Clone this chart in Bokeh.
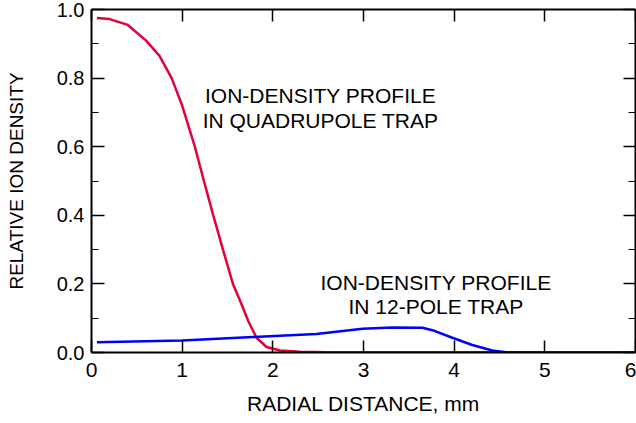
from bokeh.plotting import figure
from bokeh.models import (LinearAxis, FixedTicker, Range1d,
                          NumeralTickFormatter, CustomJSTickFormatter)
from bokeh.embed import file_html
from bokeh.resources import INLINE

# Quadrupole trap ion-density profile
quad_r = [0.06, 0.2, 0.4, 0.6, 0.75, 0.884, 1.0, 1.14, 1.24, 1.343, 1.45,
          1.56, 1.64, 1.73, 1.82, 1.93, 2.08, 2.3, 2.6, 3.0, 4.0, 5.0, 6.0]
quad_v = [0.975, 0.972, 0.955, 0.91, 0.865, 0.80, 0.72, 0.60, 0.50, 0.40,
          0.30, 0.20, 0.15, 0.091, 0.043, 0.016, 0.006, 0.002, 0.001, 0.001,
          0.001, 0.0, 0.0]

# 12-pole trap ion-density profile
pole_r = [0.06, 1.0, 1.78, 2.48, 2.99, 3.32, 3.65, 3.76, 3.98, 4.20, 4.42,
          4.57, 5.0, 6.0]
pole_v = [0.030, 0.035, 0.045, 0.054, 0.069, 0.073, 0.072, 0.065, 0.043,
          0.022, 0.006, 0.001, 0.0, 0.0]

x_ticks = [0, 1, 2, 3, 4, 5, 6]
y_ticks = [0.0, 0.2, 0.4, 0.6, 0.8, 1.0]
y_minor = [0.1, 0.3, 0.5, 0.7, 0.9]

# annotation lines (text, x centre, y centre)
note_text = ["ION-DENSITY PROFILE", "IN QUADRUPOLE TRAP",
             "ION-DENSITY PROFILE", "IN 12-POLE TRAP"]
note_x = [2.526, 2.526, 3.80, 3.80]
note_y = [0.749, 0.676, 0.205, 0.133]

p = figure(width=636, height=423, output_backend="svg", toolbar_location=None,
           x_range=Range1d(0, 6), y_range=Range1d(0, 1.0),
           min_border_top=9, min_border_right=1, min_border_left=91,
           min_border_bottom=71)
p.grid.visible = False
p.outline_line_color = None

p.line(quad_r, quad_v, line_color="#e4003a", line_width=2.5)
p.line(pole_r, pole_v, line_color="#0000ff", line_width=2.5)

p.text(x=note_x, y=note_y, text=note_text, text_align="center",
       text_baseline="middle", text_font_size="21px", text_color="#000000")

# bottom axis
xa = p.xaxis[0]
xa.ticker = FixedTicker(ticks=x_ticks)
xa.major_tick_in = 12
xa.major_tick_out = 0
xa.minor_tick_in = 0
xa.minor_tick_out = 0
xa.axis_line_width = 2
xa.major_tick_line_width = 1.5
xa.major_label_standoff = 10
xa.major_label_text_font_size = "21px"
xa.major_label_text_color = "#000000"
xa.axis_label = "RADIAL DISTANCE, mm"
xa.axis_label_text_font_size = "21px"
xa.axis_label_text_font_style = "normal"
xa.axis_label_text_color = "#000000"
xa.axis_label_standoff = 12

# left axis
ya = p.yaxis[0]
ya.ticker = FixedTicker(ticks=y_ticks, minor_ticks=y_minor)
ya.formatter = NumeralTickFormatter(format="0.0")
ya.major_tick_in = 13
ya.major_tick_out = 0
ya.minor_tick_in = 7
ya.minor_tick_out = 0
ya.axis_line_width = 2
ya.major_tick_line_width = 1.5
ya.major_label_standoff = 7
ya.major_label_text_font_size = "20px"
ya.major_label_text_color = "#000000"
ya.axis_label = "RELATIVE ION DENSITY"
ya.axis_label_text_font_size = "19px"
ya.axis_label_text_font_style = "normal"
ya.axis_label_text_color = "#000000"
ya.axis_label_standoff = 27

blank = CustomJSTickFormatter(code="return ''")

top = LinearAxis(ticker=FixedTicker(ticks=x_ticks), formatter=blank,
                 major_tick_in=12, major_tick_out=0,
                 minor_tick_in=0, minor_tick_out=0, major_label_standoff=0,
                 axis_line_width=2, major_tick_line_width=1.5)
p.add_layout(top, "above")

right = LinearAxis(ticker=FixedTicker(ticks=y_ticks, minor_ticks=y_minor),
                   formatter=CustomJSTickFormatter(code="return ''"),
                   major_tick_in=12, major_tick_out=0,
                   minor_tick_in=7, minor_tick_out=0, major_label_standoff=0,
                   axis_line_width=2, major_tick_line_width=1.5)
p.add_layout(right, "right")

open("out.html", "w").write(file_html(p, INLINE))
